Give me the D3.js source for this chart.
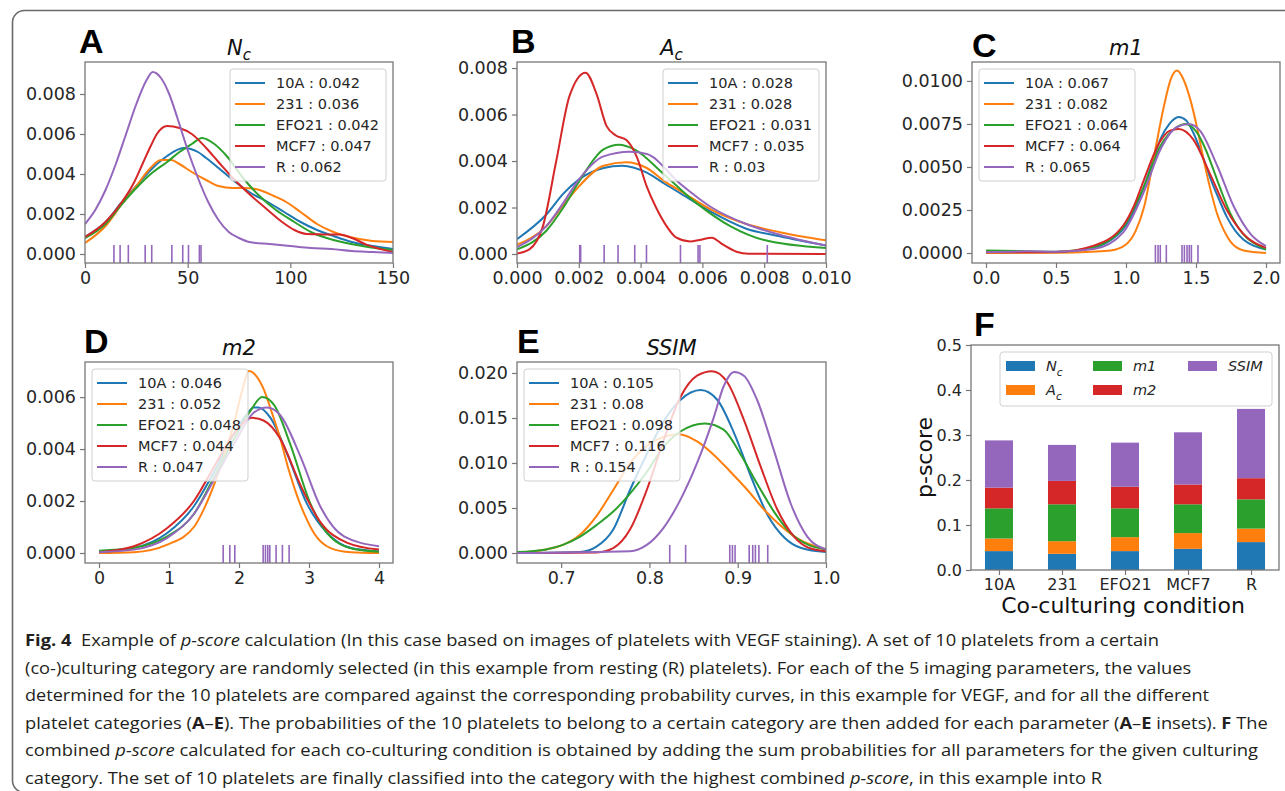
<!DOCTYPE html>
<html>
<head>
<meta charset="utf-8">
<script src="https://cdn.jsdelivr.net/npm/d3@7"></script>
<style>
  body { margin: 0; background: #fff; }
  svg text { font-family: "DejaVu Sans", sans-serif; }
  .caption { font-family: "Open Sans", "Noto Sans", sans-serif; font-size: 16px; fill: #231f20; }
  .letter { font-family: "Liberation Sans", Arial, sans-serif; font-weight: 700; font-size: 34px; fill: #000; }
</style>
</head>
<body>
<svg id="fig" width="1285" height="791"></svg>
<script>
// culturing conditions and their colours (matplotlib tab10)
var groups = ['10A', '231', 'EFO21', 'MCF7', 'R'];
var colors = ['#1f77b4', '#ff7f0e', '#2ca02c', '#d62728', '#9467bd'];
var params = ['Nc', 'Ac', 'm1', 'm2', 'SSIM'];

// summed probabilities per parameter (legend values, also the stacked bars of F)
var scoreNc = [0.042, 0.036, 0.042, 0.047, 0.062];
var scoreAc = [0.028, 0.028, 0.031, 0.035, 0.03];
var scoreM1 = [0.067, 0.082, 0.064, 0.064, 0.065];
var scoreM2 = [0.046, 0.052, 0.048, 0.044, 0.047];
var scoreSSIM = [0.105, 0.08, 0.098, 0.116, 0.154];

// density curves, [x, density], one array per group
var densityNc = [
  [[0, 0.00085], [10, 0.0016], [18, 0.0026], [25, 0.0034], [32, 0.0042], [40, 0.0049], [48, 0.0053], [55, 0.0051], [59, 0.0048], [65, 0.0043], [72, 0.0037], [80, 0.0031], [89, 0.0026], [97, 0.0021], [105, 0.0016], [113, 0.0012], [121, 0.0009], [130, 0.0006], [140, 0.0004], [150, 0.00025]],
  [[0, 0.00055], [10, 0.0014], [18, 0.0025], [25, 0.0034], [31, 0.0042], [37, 0.0047], [42, 0.0047], [46, 0.0045], [52, 0.0041], [59, 0.0037], [65, 0.0034], [72, 0.0033], [78, 0.0033], [85, 0.0032], [92, 0.0029], [98, 0.0026], [105, 0.0021], [113, 0.0015], [121, 0.0011], [129, 0.00085], [140, 0.00065], [150, 0.0006]],
  [[0, 0.0008], [10, 0.0015], [18, 0.0025], [25, 0.0033], [32, 0.004], [40, 0.0046], [46, 0.0051], [52, 0.0055], [57, 0.0058], [63, 0.0055], [69, 0.0049], [77, 0.0038], [85, 0.0029], [93, 0.0022], [102, 0.0016], [110, 0.0011], [121, 0.0007], [135, 0.0004], [150, 0.0002]],
  [[0, 0.00085], [10, 0.0016], [18, 0.0026], [24, 0.0036], [28, 0.0045], [32, 0.0054], [35, 0.006], [40, 0.0064], [46, 0.0063], [52, 0.006], [59, 0.0053], [65, 0.0046], [72, 0.0038], [80, 0.003], [89, 0.0022], [96, 0.0016], [102, 0.0012], [108, 0.001], [116, 0.00098], [124, 0.00097], [130, 0.0008], [137, 0.00047], [150, 0.0001]],
  [[0, 0.0015], [5, 0.0022], [10, 0.0032], [15, 0.0045], [20, 0.006], [25, 0.0075], [30, 0.0087], [33, 0.0091], [37, 0.0088], [41, 0.008], [45, 0.0068], [50, 0.0052], [55, 0.0038], [60, 0.0026], [65, 0.0017], [70, 0.0011], [75, 0.0008], [80, 0.0006], [90, 0.0005], [100, 0.0004], [110, 0.0003], [120, 0.00025], [130, 0.00015], [140, 0.0001], [150, 0.00005]]
];
var densityAc = [
  [[0, 0.00064], [0.00095, 0.0017], [0.0015, 0.0026], [0.002, 0.0032], [0.0028, 0.0037], [0.0034, 0.0038], [0.0042, 0.0035], [0.0048, 0.003], [0.0053, 0.0026], [0.0063, 0.0018], [0.0074, 0.0011], [0.0085, 0.00076], [0.01, 0.00036]],
  [[0, 0.0004], [0.00095, 0.0012], [0.0015, 0.0021], [0.002, 0.0029], [0.0028, 0.0038], [0.00354, 0.00395], [0.0042, 0.0037], [0.0048, 0.0031], [0.0053, 0.0027], [0.0063, 0.0019], [0.0074, 0.0013], [0.0085, 0.00094], [0.01, 0.00059]],
  [[0, 0.0002], [0.00095, 0.001], [0.0015, 0.002], [0.002, 0.0031], [0.0028, 0.0045], [0.0033, 0.0047], [0.0038, 0.0045], [0.0047, 0.0035], [0.0058, 0.0022], [0.0069, 0.0012], [0.008, 0.0006], [0.01, 0.00026]],
  [[0, 0.00002], [0.0004, 0.0002], [0.00084, 0.0012], [0.00127, 0.004], [0.0017, 0.0068], [0.00222, 0.0078], [0.00257, 0.0069], [0.0029, 0.0055], [0.0032, 0.0051], [0.00354, 0.0049], [0.00387, 0.0042], [0.0042, 0.0029], [0.0045, 0.002], [0.00484, 0.0012], [0.00516, 0.0007], [0.0056, 0.00054], [0.0059, 0.0006], [0.0063, 0.0007], [0.00667, 0.0004], [0.0071, 0.0001], [0.0075, 0.00001], [0.01, 0]],
  [[0, 0.0003], [0.00095, 0.0012], [0.0015, 0.0022], [0.002, 0.0032], [0.0028, 0.0042], [0.00365, 0.0044], [0.0042, 0.0043], [0.0053, 0.003], [0.0063, 0.002], [0.0074, 0.0013], [0.0085, 0.00083], [0.01, 0.00036]]
];
var densityM1 = [
  [[0, 0.00002], [0.5, 0.00005], [0.77, 0.0003], [0.9, 0.0008], [0.98, 0.0014], [1.06, 0.0025], [1.13, 0.0039], [1.19, 0.0053], [1.245, 0.0066], [1.31, 0.0075], [1.376, 0.0079], [1.43, 0.0077], [1.48, 0.007], [1.54, 0.0058], [1.6, 0.0044], [1.66, 0.0032], [1.72, 0.0021], [1.78, 0.0013], [1.84, 0.00077], [1.92, 0.0004], [2, 0.0002]],
  [[0, 0], [0.5, 0.00002], [0.75, 0.00008], [0.89, 0.00015], [1.0, 0.0005], [1.07, 0.0013], [1.13, 0.0027], [1.2, 0.0056], [1.27, 0.0085], [1.32, 0.0101], [1.364, 0.0106], [1.41, 0.0101], [1.46, 0.0089], [1.51, 0.0072], [1.555, 0.0054], [1.6, 0.0038], [1.65, 0.0023], [1.7, 0.0013], [1.745, 0.00068], [1.84, 0.00015], [2, 0]],
  [[0, 0.00015], [0.3, 0.0001], [0.5, 0.00008], [0.77, 0.00035], [0.98, 0.0015], [1.13, 0.0039], [1.245, 0.0062], [1.36, 0.0073], [1.424, 0.0075], [1.507, 0.007], [1.57, 0.006], [1.626, 0.0048], [1.69, 0.0034], [1.745, 0.0023], [1.8, 0.0015], [1.864, 0.00087], [1.93, 0.0005], [2, 0.0002]],
  [[0, 0.00004], [0.5, 0.00006], [0.77, 0.00043], [0.98, 0.0016], [1.06, 0.0028], [1.13, 0.0043], [1.245, 0.0065], [1.31, 0.0071], [1.376, 0.0072], [1.48, 0.0066], [1.6, 0.0046], [1.72, 0.0025], [1.84, 0.0011], [2, 0.0003]],
  [[0, 0.00004], [0.3, 0.0001], [0.5, 0.00008], [0.77, 0.00023], [0.98, 0.0012], [1.13, 0.0036], [1.245, 0.006], [1.36, 0.0073], [1.448, 0.0075], [1.53, 0.0071], [1.65, 0.0051], [1.77, 0.0027], [1.89, 0.0011], [2, 0.0004]]
];
var densityM2 = [
  [[0, 0.00006], [0.5, 0.0002], [0.975, 0.00077], [1.356, 0.0018], [1.64, 0.0031], [1.93, 0.0046], [2.1, 0.0053], [2.21, 0.0056], [2.28, 0.0056], [2.45, 0.0052], [2.69, 0.0038], [2.97, 0.0019], [3.26, 0.00077], [3.59, 0.0002], [4, 0.00006]],
  [[0, 0], [0.5, 0.00003], [0.975, 0.00032], [1.356, 0.001], [1.5, 0.0017], [1.64, 0.0026], [1.78, 0.0037], [1.93, 0.005], [2.05, 0.0063], [2.14, 0.007], [2.25, 0.0068], [2.354, 0.0063], [2.47, 0.0054], [2.59, 0.0044], [2.71, 0.0032], [2.83, 0.0022], [2.95, 0.0014], [3.07, 0.00077], [3.3, 0.0002], [3.6, 0.00003], [4, 0]],
  [[0, 0.00009], [0.5, 0.0002], [0.975, 0.00064], [1.356, 0.0015], [1.64, 0.0029], [1.93, 0.0044], [2.17, 0.0055], [2.33, 0.006], [2.5, 0.0057], [2.73, 0.0042], [3.02, 0.0019], [3.3, 0.00064], [3.64, 0.00015], [4, 0.00005]],
  [[0, 0.00003], [0.5, 0.00026], [0.975, 0.00096], [1.356, 0.002], [1.64, 0.0033], [1.93, 0.0046], [2.19, 0.0052], [2.35, 0.0051], [2.59, 0.0044], [2.88, 0.0026], [3.16, 0.0012], [3.54, 0.0004], [4, 0.00013]],
  [[0, 0.00003], [0.5, 0.00013], [0.975, 0.00058], [1.356, 0.0015], [1.64, 0.0028], [1.93, 0.0042], [2.21, 0.0054], [2.4, 0.0056], [2.59, 0.0053], [2.88, 0.0037], [3.16, 0.0018], [3.5, 0.00064], [4, 0.00026]]
];
var densitySSIM = [
  [[0.65, 0], [0.721, 0.0001], [0.74, 0.0007], [0.759, 0.0026], [0.778, 0.007], [0.797, 0.011], [0.816, 0.0146], [0.835, 0.017], [0.858, 0.0181], [0.877, 0.017], [0.896, 0.0133], [0.915, 0.0085], [0.934, 0.0042], [0.953, 0.0017], [0.972, 0.00055], [1.0, 0.0001]],
  [[0.65, 0.00007], [0.683, 0.0004], [0.702, 0.0009], [0.721, 0.002], [0.74, 0.0041], [0.759, 0.007], [0.778, 0.01], [0.797, 0.0119], [0.816, 0.0129], [0.833, 0.0132], [0.854, 0.0124], [0.873, 0.0109], [0.892, 0.009], [0.911, 0.007], [0.93, 0.0048], [0.949, 0.003], [0.968, 0.0016], [1.0, 0.0004]],
  [[0.65, 0.0001], [0.683, 0.0004], [0.702, 0.0009], [0.721, 0.0018], [0.74, 0.0031], [0.759, 0.0046], [0.778, 0.0066], [0.797, 0.009], [0.816, 0.0118], [0.835, 0.0135], [0.863, 0.0144], [0.884, 0.0137], [0.903, 0.011], [0.922, 0.0077], [0.941, 0.0046], [0.96, 0.0022], [0.98, 0.0009], [1.0, 0.0004]],
  [[0.65, 0], [0.74, 0.00007], [0.759, 0.00055], [0.778, 0.0026], [0.797, 0.007], [0.816, 0.0125], [0.835, 0.0173], [0.854, 0.0197], [0.871, 0.0202], [0.888, 0.019], [0.907, 0.0148], [0.926, 0.0096], [0.945, 0.0048], [0.964, 0.0018], [0.98, 0.0006], [1.0, 0.0002]],
  [[0.65, 0], [0.778, 0.0002], [0.797, 0.0009], [0.816, 0.0028], [0.835, 0.0059], [0.854, 0.01], [0.873, 0.0151], [0.884, 0.0185], [0.896, 0.0201], [0.907, 0.0197], [0.922, 0.017], [0.941, 0.0114], [0.96, 0.0055], [0.979, 0.0018], [1.0, 0.0004]]
];

// the 10 sampled resting platelets (rug ticks)
var rugNc = [14.1, 17.1, 21.1, 29.3, 32.5, 42.3, 47.6, 50.4, 55.7, 56.5];
var rugAc = [0.00203, 0.00206, 0.00282, 0.00327, 0.00381, 0.00419, 0.00529, 0.00586, 0.00592, 0.0081];
var rugM1 = [1.21, 1.229, 1.245, 1.288, 1.4, 1.417, 1.436, 1.452, 1.467, 1.514];
var rugM2 = [1.774, 1.869, 1.94, 2.345, 2.378, 2.411, 2.44, 2.53, 2.62, 2.716];
var rugSSIM = [0.823, 0.841, 0.891, 0.894, 0.897, 0.913, 0.917, 0.920, 0.924, 0.934];

// tick values
var xTicksNc = [0, 50, 100, 150];
var yTicksNc = [0, 0.002, 0.004, 0.006, 0.008];
var xTicksAc = [0, 0.002, 0.004, 0.006, 0.008, 0.01];
var yTicksAc = [0, 0.002, 0.004, 0.006, 0.008];
var xTicksM1 = [0, 0.5, 1, 1.5, 2];
var yTicksM1 = [0, 0.0025, 0.005, 0.0075, 0.01];
var xTicksM2 = [0, 1, 2, 3, 4];
var yTicksM2 = [0, 0.002, 0.004, 0.006];
var xTicksSSIM = [0.7, 0.8, 0.9, 1.0];
var yTicksSSIM = [0, 0.005, 0.01, 0.015, 0.02];
var yTicksScore = [0, 0.1, 0.2, 0.3, 0.4, 0.5];

// math labels: [main, subscript]
var paramLabels = [['N', 'c'], ['A', 'c'], ['m1', ''], ['m2', ''], ['SSIM', '']];

var captionLines = [
  [['Fig. 4', 'b'], ['\u00a0 Example of ', ''], ['p-score', 'i'], [' calculation (In this case based on images of platelets with VEGF staining). A set of 10 platelets from a certain', '']],
  [['(co-)culturing category are randomly selected (in this example from resting (R) platelets). For each of the 5 imaging parameters, the values', '']],
  [['determined for the 10 platelets are compared against the corresponding probability curves, in this example for VEGF, and for all the different', '']],
  [['platelet categories (', ''], ['A', 'b'], ['\u2013', ''], ['E', 'b'], ['). The probabilities of the 10 platelets to belong to a certain category are then added for each parameter (', ''], ['A', 'b'], ['\u2013', ''], ['E', 'b'], [' insets). ', ''], ['F', 'b'], [' The', '']],
  [['combined ', ''], ['p-score', 'i'], [' calculated for each co-culturing condition is obtained by adding the sum probabilities for all parameters for the given culturing', '']],
  [['category. The set of 10 platelets are finally classified into the category with the highest combined ', ''], ['p-score', 'i'], [', in this example into R', '']]
];

// layout
var captionX = 25, captionTop = 646, captionLead = 27.6;
var captionEnds = [1160, 1192, 1210, 1268, 1259, 1103];

var panels = [
  {key: 'A', param: 0, curves: densityNc, rug: rugNc, scores: scoreNc, box: [85, 62, 393, 263],
   xDomain: [0, 150], yDomain: [-0.00045, 0.0096], xTicks: xTicksNc, yTicks: yTicksNc,
   xFmt: d3.format('d'), yFmt: d3.format('.3f'), legendLoc: 'right', letter: [79, 53]},
  {key: 'B', param: 1, curves: densityAc, rug: rugAc, scores: scoreAc, box: [517, 62, 826, 263],
   xDomain: [0, 0.01], yDomain: [-0.000387, 0.00826], xTicks: xTicksAc, yTicks: yTicksAc,
   xFmt: d3.format('.3f'), yFmt: d3.format('.3f'), legendLoc: 'right', letter: [511, 53]},
  {key: 'C', param: 2, curves: densityM1, rug: rugM1, scores: scoreM1, box: [972, 62, 1280, 263],
   xDomain: [-0.1, 2.1], yDomain: [-0.00058, 0.0111], xTicks: xTicksM1, yTicks: yTicksM1,
   xFmt: d3.format('.1f'), yFmt: d3.format('.4f'), legendLoc: 'left', letter: [972, 57]},
  {key: 'D', param: 3, curves: densityM2, rug: rugM2, scores: scoreM2, box: [85, 362, 393, 563],
   xDomain: [-0.2, 4.2], yDomain: [-0.000385, 0.00735], xTicks: xTicksM2, yTicks: yTicksM2,
   xFmt: d3.format('d'), yFmt: d3.format('.3f'), legendLoc: 'left', letter: [84, 353]},
  {key: 'E', param: 4, curves: densitySSIM, rug: rugSSIM, scores: scoreSSIM, box: [517, 362, 826, 563],
   xDomain: [0.65, 1.0], yDomain: [-0.00111, 0.02122], xTicks: xTicksSSIM, yTicks: yTicksSSIM,
   xFmt: d3.format('.1f'), yFmt: d3.format('.3f'), legendLoc: 'left', letter: [517, 353]}
];

var svg = d3.select('#fig');
var spineColor = '#777';
var tickText = '#262626';

// outer frame
svg.append('rect')
  .attr('x', 12.5).attr('y', 10.5)
  .attr('width', 1320).attr('height', 782)
  .attr('rx', 12)
  .attr('fill', 'none')
  .attr('stroke', '#6a6a6a')
  .attr('stroke-width', 1.6);

function mathLabel(sel, label, subSize) {
  sel.append('tspan').attr('font-style', 'italic').text(label[0]);
  if (label[1]) {
    sel.append('tspan').attr('font-style', 'italic')
      .attr('font-size', subSize).attr('dy', 5).text(label[1]);
  }
}

function styleAxis(a, size) {
  a.select('.domain').remove();
  a.selectAll('.tick line').attr('stroke', spineColor).attr('stroke-width', 1.2);
  a.selectAll('.tick text').attr('fill', tickText).attr('font-size', size)
    .attr('font-family', '"DejaVu Sans", sans-serif');
}

function drawDensity(p) {
  var g = svg.append('g').attr('class', 'panel-' + p.key);
  var x = d3.scaleLinear().domain(p.xDomain).range([p.box[0], p.box[2]]);
  var y = d3.scaleLinear().domain(p.yDomain).range([p.box[3], p.box[1]]);

  g.append('clipPath').attr('id', 'clip-' + p.key)
    .append('rect')
    .attr('x', p.box[0]).attr('y', p.box[1])
    .attr('width', p.box[2] - p.box[0]).attr('height', p.box[3] - p.box[1]);

  var line = d3.line()
    .x(function(d) { return x(d[0]); })
    .y(function(d) { return y(d[1]); })
    .curve(d3.curveMonotoneX);

  var plot = g.append('g').attr('clip-path', 'url(#clip-' + p.key + ')');
  plot.selectAll('path.density')
    .data(p.curves)
    .enter()
    .append('path')
    .attr('class', 'density')
    .attr('d', line)
    .attr('fill', 'none')
    .attr('stroke', function(d, i) { return colors[i]; })
    .attr('stroke-width', 2);

  // rug of the sampled platelets
  var rugH = 0.09 * (p.box[3] - p.box[1]);
  plot.selectAll('line.rug')
    .data(p.rug)
    .enter()
    .append('line')
    .attr('class', 'rug')
    .attr('x1', function(d) { return x(d); })
    .attr('x2', function(d) { return x(d); })
    .attr('y1', p.box[3])
    .attr('y2', p.box[3] - rugH)
    .attr('stroke', colors[4])
    .attr('stroke-width', 1.6);

  var xa = g.append('g')
    .attr('transform', 'translate(0,' + p.box[3] + ')')
    .call(d3.axisBottom(x).tickValues(p.xTicks).tickFormat(p.xFmt).tickSize(5).tickPadding(4));
  styleAxis(xa, '17.5px');
  var ya = g.append('g')
    .attr('transform', 'translate(' + p.box[0] + ',0)')
    .call(d3.axisLeft(y).tickValues(p.yTicks).tickFormat(p.yFmt).tickSize(5).tickPadding(4));
  styleAxis(ya, '17.5px');

  g.append('rect')
    .attr('x', p.box[0]).attr('y', p.box[1])
    .attr('width', p.box[2] - p.box[0]).attr('height', p.box[3] - p.box[1])
    .attr('fill', 'none').attr('stroke', spineColor).attr('stroke-width', 1.3);

  // title
  var title = g.append('text')
    .attr('x', (p.box[0] + p.box[2]) / 2)
    .attr('y', p.box[1] - 7)
    .attr('text-anchor', 'middle')
    .attr('font-size', '21px')
    .attr('fill', '#111');
  mathLabel(title, paramLabels[p.param], '15px');

  // legend
  var lg = g.append('g');
  var box = lg.append('rect');
  var rows = lg.selectAll('g.row')
    .data(groups)
    .enter()
    .append('g')
    .attr('class', 'row');
  rows.append('line')
    .attr('x1', 5).attr('x2', 35)
    .attr('y1', function(d, i) { return 14 + 21 * i; })
    .attr('y2', function(d, i) { return 14 + 21 * i; })
    .attr('stroke', function(d, i) { return colors[i]; })
    .attr('stroke-width', 2);
  var labels = rows.append('text')
    .attr('x', 46)
    .attr('y', function(d, i) { return 14 + 21 * i; })
    .attr('dy', '0.36em')
    .attr('font-size', '14.5px')
    .attr('fill', tickText)
    .text(function(d, i) { return d + ' : ' + p.scores[i]; });
  var maxW = d3.max(labels.nodes(), function(n) { return n.getComputedTextLength(); });
  var w = 46 + maxW + 7;
  var lx = p.legendLoc === 'right' ? p.box[2] - 7 - w : p.box[0] + 7;
  box.attr('width', w).attr('height', 112).attr('rx', 3)
    .attr('fill', '#fff').attr('fill-opacity', 0.8)
    .attr('stroke', '#d0d0d0').attr('stroke-width', 1);
  lg.attr('transform', 'translate(' + lx + ',' + (p.box[1] + 7) + ')');

  svg.append('text').attr('class', 'letter')
    .attr('x', p.letter[0]).attr('y', p.letter[1]).text(p.key);
}

panels.forEach(drawDensity);

// F: stacked p-score per co-culturing condition
(function() {
  var box = [971, 345, 1279, 570];
  var scoreTable = [scoreNc, scoreAc, scoreM1, scoreM2, scoreSSIM];
  var rows = groups.map(function(gr, i) {
    var r = {group: gr};
    params.forEach(function(k, j) { r[k] = scoreTable[j][i]; });
    return r;
  });
  var stacked = d3.stack().keys(params)(rows);

  var x = d3.scalePoint().domain(groups).range([box[0], box[2]]).padding(0.444);
  var y = d3.scaleLinear().domain([0, 0.5]).range([box[3], box[1]]);
  var barW = 28;
  var g = svg.append('g').attr('class', 'panel-F');

  g.selectAll('g.layer')
    .data(stacked)
    .enter()
    .append('g')
    .attr('class', 'layer')
    .attr('fill', function(d, i) { return colors[i]; })
    .selectAll('rect')
    .data(function(d) { return d; })
    .enter()
    .append('rect')
    .attr('x', function(d) { return x(d.data.group) - barW / 2; })
    .attr('width', barW)
    .attr('y', function(d) { return y(d[1]); })
    .attr('height', function(d) { return y(d[0]) - y(d[1]); });

  var xa = g.append('g')
    .attr('transform', 'translate(0,' + box[3] + ')')
    .call(d3.axisBottom(x).tickSize(5).tickPadding(4));
  styleAxis(xa, '16px');
  var ya = g.append('g')
    .attr('transform', 'translate(' + box[0] + ',0)')
    .call(d3.axisLeft(y).tickValues(yTicksScore).tickFormat(d3.format('.1f')).tickSize(5).tickPadding(4));
  styleAxis(ya, '16px');

  g.append('rect')
    .attr('x', box[0]).attr('y', box[1])
    .attr('width', box[2] - box[0]).attr('height', box[3] - box[1])
    .attr('fill', 'none').attr('stroke', spineColor).attr('stroke-width', 1.3);

  g.append('text')
    .attr('x', (box[0] + box[2]) / 2 - 2).attr('y', 613)
    .attr('text-anchor', 'middle')
    .attr('font-size', '22px').attr('fill', '#111')
    .text('Co-culturing condition');
  g.append('text')
    .attr('transform', 'translate(932,' + ((box[1] + box[3]) / 2) + ') rotate(-90)')
    .attr('text-anchor', 'middle')
    .attr('font-size', '22px').attr('fill', '#111')
    .text('p-score');

  // legend, three columns filled column by column
  var lg = g.append('g').attr('transform', 'translate(1000,352)');
  lg.append('rect')
    .attr('width', 272).attr('height', 54).attr('rx', 3)
    .attr('fill', '#fff').attr('fill-opacity', 0.8)
    .attr('stroke', '#d0d0d0');
  var colX = [6, 93, 188];
  var items = lg.selectAll('g.item')
    .data(params)
    .enter()
    .append('g')
    .attr('class', 'item')
    .attr('transform', function(d, i) {
      return 'translate(' + colX[Math.floor(i / 2)] + ',' + (14 + 24 * (i % 2)) + ')';
    });
  items.append('rect')
    .attr('x', 0).attr('y', -5).attr('width', 29).attr('height', 10)
    .attr('fill', function(d, i) { return colors[i]; });
  items.each(function(d, i) {
    var t = d3.select(this).append('text')
      .attr('x', 40).attr('dy', '0.35em')
      .attr('font-size', '14.5px').attr('fill', tickText);
    mathLabel(t, paramLabels[i], '10.5px');
  });

  svg.append('text').attr('class', 'letter').attr('x', 974).attr('y', 336).text('F');
})();

// caption, each line fitted to its measured width
captionLines.forEach(function(segs, i) {
  var t = svg.append('text').attr('class', 'caption');
  segs.forEach(function(s) {
    t.append('tspan')
      .attr('font-weight', s[1] === 'b' ? 700 : null)
      .attr('font-style', s[1] === 'i' ? 'italic' : null)
      .text(s[0]);
  });
  var w = t.node().getComputedTextLength();
  var k = (captionEnds[i] - captionX) / w;
  t.attr('transform', 'translate(' + captionX + ',' + (captionTop + i * captionLead) + ') scale(' + k + ',1)');
});
</script>
</body>
</html>
